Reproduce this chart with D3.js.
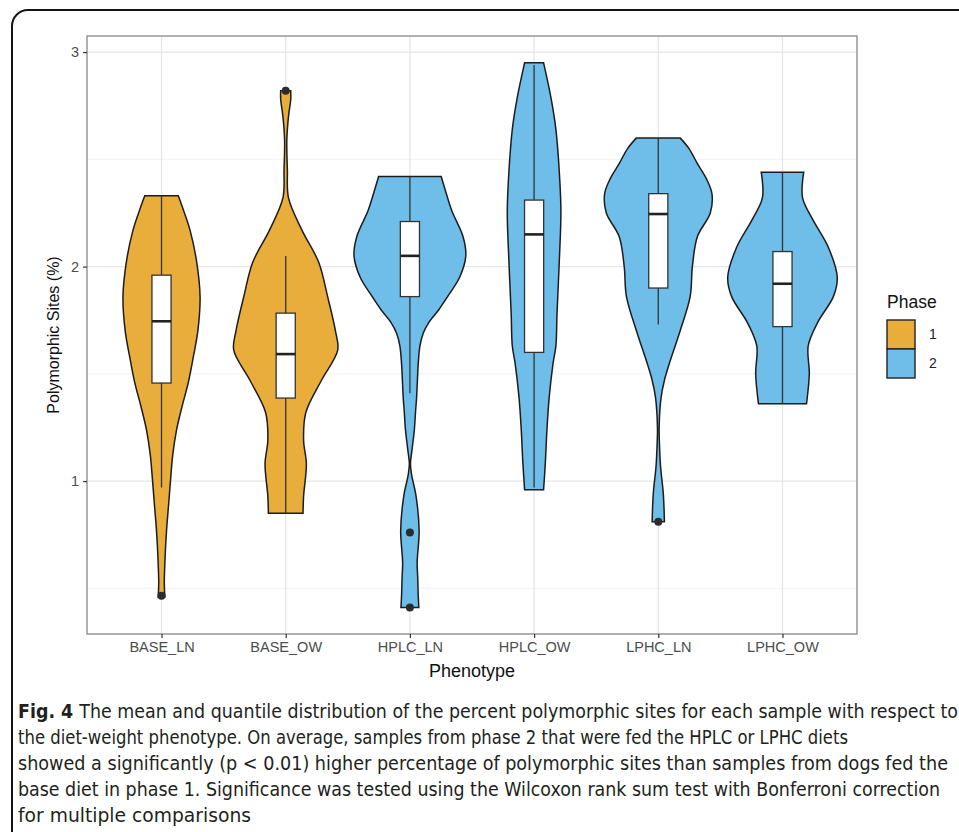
<!DOCTYPE html>
<html>
<meta charset="utf-8">
<script src="https://d3js.org/d3.v7.min.js"></script>
<style>
    body { margin: 0; background: #fff; }
    svg { display: block; }
</style>
<body>
<div id="fig"></div>
<script>

// categories on the x axis and the phase each one belongs to
var phenotypes = ["BASE_LN", "BASE_OW", "HPLC_LN", "HPLC_OW", "LPHC_LN", "LPHC_OW"];
var phaseOf = ["1", "1", "2", "2", "2", "2"];
var phases = ["1", "2"];
var phaseColors = ["#E9AD3B", "#6FBDE9"];

var yTicks = [1, 2, 3];
var yMinor = [0.5, 1.5, 2.5];

// violin outlines: [value, half width as share of the widest violin]
var violinBaseLN = [[0.46, 0.06], [0.52, 0.05], [0.62, 0.06], [0.77, 0.09], [0.90, 0.13], [1.0, 0.16],
    [1.12, 0.20], [1.24, 0.27], [1.35, 0.37], [1.46, 0.48], [1.58, 0.57], [1.70, 0.65], [1.86, 0.69],
    [2.02, 0.63], [2.17, 0.51], [2.28, 0.37], [2.33, 0.30]];
var violinBaseOW = [[0.85, 0.31], [0.93, 0.32], [1.08, 0.37], [1.19, 0.32], [1.32, 0.36], [1.47, 0.64],
    [1.61, 0.93], [1.70, 0.89], [1.86, 0.75], [2.02, 0.59], [2.17, 0.29], [2.32, 0.05], [2.45, 0.03],
    [2.59, 0.02], [2.70, 0.05], [2.78, 0.09], [2.82, 0.09]];
var violinHplcLN = [[0.41, 0.16], [0.46, 0.15], [0.55, 0.14], [0.62, 0.13], [0.77, 0.165], [0.93, 0.11],
    [1.03, 0.03], [1.08, 0.01], [1.15, 0.04], [1.24, 0.08], [1.32, 0.10], [1.39, 0.12], [1.55, 0.15],
    [1.63, 0.18], [1.69, 0.24], [1.74, 0.34], [1.80, 0.52], [1.87, 0.70], [1.95, 0.89], [2.05, 1.0],
    [2.14, 0.95], [2.26, 0.75], [2.35, 0.64], [2.42, 0.56]];
var violinHplcOW = [[0.96, 0.17], [1.08, 0.20], [1.24, 0.23], [1.39, 0.27], [1.55, 0.34], [1.63, 0.39],
    [1.78, 0.41], [2.02, 0.45], [2.25, 0.48], [2.40, 0.46], [2.64, 0.39], [2.79, 0.30], [2.95, 0.17]];
var violinLphcLN = [[0.81, 0.11], [0.94, 0.09], [1.07, 0.04], [1.18, 0.02], [1.25, 0.015], [1.39, 0.05],
    [1.47, 0.11], [1.55, 0.20], [1.70, 0.39], [1.86, 0.57], [2.0, 0.61], [2.14, 0.70], [2.25, 0.93],
    [2.34, 0.96], [2.41, 0.86], [2.48, 0.70], [2.55, 0.55], [2.60, 0.39]];
var violinLphcOW = [[1.36, 0.43], [1.50, 0.48], [1.63, 0.46], [1.74, 0.63], [1.86, 0.91], [1.95, 0.98],
    [2.09, 0.82], [2.22, 0.54], [2.32, 0.36], [2.44, 0.38]];
var violins = [violinBaseLN, violinBaseOW, violinHplcLN, violinHplcOW, violinLphcLN, violinLphcOW];

// box plot numbers per phenotype
var whiskerLow  = [0.97, 0.85, 1.41, 0.97, 1.73, 1.36];
var q1          = [1.457, 1.387, 1.86, 1.60, 1.90, 1.72];
var median      = [1.745, 1.592, 2.05, 2.15, 2.245, 1.92];
var q3          = [1.96, 1.783, 2.21, 2.31, 2.34, 2.07];
var whiskerHigh = [2.33, 2.049, 2.42, 2.94, 2.60, 2.44];
var outliers    = [[0.465], [2.82], [0.76, 0.41], [], [0.81], []];

var captionLines = [
    "The mean and quantile distribution of the percent polymorphic sites for each sample with respect to",
    "the diet-weight phenotype. On average, samples from phase 2 that were fed the HPLC or LPHC diets",
    "showed a significantly (p < 0.01) higher percentage of polymorphic sites than samples from dogs fed the",
    "base diet in phase 1. Significance was tested using the Wilcoxon rank sum test with Bonferroni correction",
    "for multiple comparisons"
];
var captionWidths = [940, 830, 930, 922, 233];

// set the dimensions and margins of the graph
var W = 959, H = 832;
var margin = { top: 36, right: 102, bottom: 198, left: 87 },
    width = W - margin.left - margin.right,
    height = H - margin.top - margin.bottom;

var font = "'Liberation Sans', Arial, sans-serif";

var root = d3.select("#fig").append("svg")
    .attr("width", W)
    .attr("height", H);

root.append("rect").attr("width", W).attr("height", H).attr("fill", "#fff");

// outer figure frame
root.append("rect")
    .attr("x", 12).attr("y", 10)
    .attr("width", 1000).attr("height", 1000)
    .attr("rx", 16)
    .attr("fill", "none")
    .attr("stroke", "#151515")
    .attr("stroke-width", 2);

var svg = root.append("g")
    .attr("transform", "translate(" + margin.left + "," + margin.top + ")");

// scales
var x = d3.scalePoint()
    .domain(phenotypes)
    .range([0, width])
    .padding(0.6);

var y = d3.scaleLinear()
    .domain([0.287, 3.075])
    .range([height, 0]);

var halfW = d3.scaleLinear()
    .domain([0, 1])
    .range([0, x.step() * 0.45]);

var boxHalf = x.step() * 0.077;

var color = d3.scaleOrdinal().domain(phases).range(phaseColors);

// grid
svg.append("g").selectAll("line").data(yMinor).enter().append("line")
    .attr("x1", 0).attr("x2", width)
    .attr("y1", d => y(d)).attr("y2", d => y(d))
    .attr("stroke", "#f0f0f0").attr("stroke-width", 0.8);
svg.append("g").selectAll("line").data(yTicks).enter().append("line")
    .attr("x1", 0).attr("x2", width)
    .attr("y1", d => y(d)).attr("y2", d => y(d))
    .attr("stroke", "#e6e6e6").attr("stroke-width", 1.3);
svg.append("g").selectAll("line").data(phenotypes).enter().append("line")
    .attr("y1", 0).attr("y2", height)
    .attr("x1", d => x(d)).attr("x2", d => x(d))
    .attr("stroke", "#e6e6e6").attr("stroke-width", 1.3);

// violins
var area = d3.area()
    .curve(d3.curveCatmullRom)
    .y(d => y(d[0]));

phenotypes.forEach(function (p, i) {
    var cx = x(p);
    var g = svg.append("g");

    g.append("path")
        .datum(violins[i])
        .attr("d", area.x0(d => cx - halfW(d[1])).x1(d => cx + halfW(d[1])))
        .attr("fill", color(phaseOf[i]))
        .attr("stroke", "#1c1c1c")
        .attr("stroke-width", 1.5);

    // whisker
    g.append("line")
        .attr("x1", cx).attr("x2", cx)
        .attr("y1", y(whiskerLow[i])).attr("y2", y(whiskerHigh[i]))
        .attr("stroke", "#333").attr("stroke-width", 1.3);

    // box
    g.append("rect")
        .attr("x", cx - boxHalf)
        .attr("width", boxHalf * 2)
        .attr("y", y(q3[i]))
        .attr("height", y(q1[i]) - y(q3[i]))
        .attr("fill", "#fff")
        .attr("stroke", "#333").attr("stroke-width", 1.3);

    g.append("line")
        .attr("x1", cx - boxHalf).attr("x2", cx + boxHalf)
        .attr("y1", y(median[i])).attr("y2", y(median[i]))
        .attr("stroke", "#222").attr("stroke-width", 2.6);

    g.selectAll("circle").data(outliers[i]).enter().append("circle")
        .attr("cx", cx).attr("cy", d => y(d))
        .attr("r", 4)
        .attr("fill", "#2b2b2b");
});

// panel border
svg.append("rect")
    .attr("width", width).attr("height", height)
    .attr("fill", "none")
    .attr("stroke", "#888").attr("stroke-width", 1.3);

// axes
var yAxis = svg.append("g")
    .call(d3.axisLeft(y).tickValues(yTicks).tickSize(4).tickPadding(4).tickFormat(d3.format("d")));
var xAxis = svg.append("g")
    .attr("transform", "translate(0," + height + ")")
    .call(d3.axisBottom(x).tickSize(4).tickPadding(4));

[yAxis, xAxis].forEach(function (a) {
    a.select(".domain").remove();
    a.selectAll(".tick line").attr("stroke", "#333").attr("stroke-width", 1.2);
    a.selectAll(".tick text")
        .attr("fill", "#4d4d4d")
        .style("font-family", font)
        .style("font-size", "14.5px");
});

// axis titles
svg.append("text")
    .attr("x", width / 2)
    .attr("y", height + 43)
    .attr("text-anchor", "middle")
    .style("font-family", font)
    .style("font-size", "18px")
    .attr("fill", "#111")
    .text("Phenotype");

svg.append("text")
    .attr("transform", "translate(-28," + (height / 2) + ") rotate(-90)")
    .attr("text-anchor", "middle")
    .style("font-family", font)
    .style("font-size", "16px")
    .attr("fill", "#111")
    .text("Polymorphic Sites (%)");

// legend
var legend = root.append("g").attr("transform", "translate(887,0)");
legend.append("text")
    .attr("x", 0).attr("y", 308)
    .style("font-family", font)
    .style("font-size", "17.5px")
    .attr("fill", "#111")
    .text("Phase");

legend.selectAll("rect.key").data(phases).enter().append("rect")
    .attr("class", "key")
    .attr("x", 0)
    .attr("y", (d, i) => 320 + i * 29)
    .attr("width", 28).attr("height", 29)
    .attr("fill", d => color(d))
    .attr("stroke", "#222").attr("stroke-width", 1.4);

legend.selectAll("text.lab").data(phases).enter().append("text")
    .attr("class", "lab")
    .attr("x", 42)
    .attr("y", (d, i) => 334.5 + i * 29)
    .attr("dy", "0.35em")
    .style("font-family", font)
    .style("font-size", "14px")
    .attr("fill", "#222")
    .text(d => d);

// caption
var capFont = "'Liberation Sans Narrow', 'DejaVu Sans Condensed', 'Roboto Condensed', sans-serif";
var cap = root.append("g");
captionLines.forEach(function (line, i) {
    var t = cap.append("text")
        .attr("x", 18)
        .attr("y", 718 + i * 26)
        .attr("textLength", captionWidths[i])
        .attr("lengthAdjust", "spacingAndGlyphs")
        .style("font-family", capFont)
        .style("font-size", "19px")
        .attr("fill", "#231f20");
    if (i === 0) {
        t.append("tspan").style("font-weight", "bold").text("Fig. 4 ");
    }
    t.append("tspan").text(line);
});

</script>
</body>
</html>
